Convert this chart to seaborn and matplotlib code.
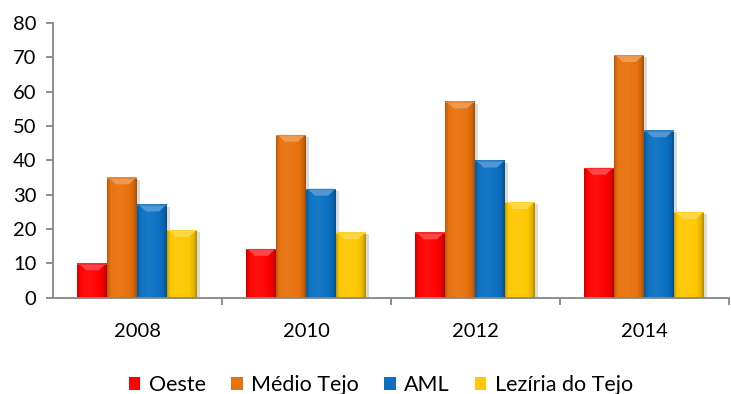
import numpy as np
import pandas as pd
import matplotlib
matplotlib.use("Agg")
import matplotlib.pyplot as plt
import seaborn as sns
from matplotlib.colors import to_rgb
from matplotlib.patches import Polygon, Rectangle

# Values per region and year
anos = ["2008", "2010", "2012", "2014"]
regioes = ["Oeste", "Médio Tejo", "AML", "Lezíria do Tejo"]
oeste = [10.0, 14.2, 19.0, 37.8]
medio_tejo = [35.0, 47.4, 57.1, 70.6]
aml = [27.1, 31.7, 39.9, 48.7]
leziria_do_tejo = [19.7, 19.0, 27.8, 24.9]
y_ticks = [0, 10, 20, 30, 40, 50, 60, 70, 80]

cores = ["#FF0000", "#E8720C", "#0A70C2", "#FFC800"]

series = [oeste, medio_tejo, aml, leziria_do_tejo]
df = pd.DataFrame({
    "Ano": [a for _ in regioes for a in anos],
    "Região": [r for r in regioes for _ in anos],
    "Valor": [v for s in series for v in s],
})

sns.set_theme(style="white")
plt.rcParams["font.family"] = ["Lato", "DejaVu Sans"]
FS = 14.5
FS_LEG = 15.5

fig = plt.figure(figsize=(7.31, 3.94), dpi=100)
ax = fig.add_axes([0.0725, 0.2444, 0.9245, 0.6976])

sns.barplot(data=df, x="Ano", y="Valor", hue="Região", hue_order=regioes,
            order=anos, palette=cores, width=0.71, saturation=1,
            edgecolor="none", linewidth=0, ax=ax)

ax.set_xlim(-0.5, 3.5)
ax.set_ylim(0, 80)


def shade(rgb, f):
    rgb = np.array(rgb)
    if f < 1:
        return rgb * f
    return rgb + (1 - rgb) * (f - 1)


# Beveled look: horizontal gradient, lighter top chevron, soft side shadow
xs = np.linspace(0, 1, 60)
profile = np.interp(xs, [0, 0.06, 0.12, 0.4, 0.75, 0.9, 0.96, 1.0],
                    [0.78, 0.92, 1.02, 1.06, 1.0, 0.9, 0.78, 0.7])
bevel = 2.0
for cont, cor in zip(ax.containers, cores):
    base = to_rgb(cor)
    for bar in cont:
        x0, w, h = bar.get_x(), bar.get_width(), bar.get_height()
        img = np.array([[np.clip(shade(base, f), 0, 1) for f in profile]])
        ax.add_patch(Rectangle((x0 + w, 0), 0.014, max(h - 0.6, 0),
                               color="#9a9a9a", alpha=0.35, lw=0, zorder=1))
        ax.imshow(img, extent=[x0, x0 + w, 0, h], aspect="auto",
                  interpolation="bilinear", zorder=3)
        top = np.clip(shade(base, 1.28), 0, 1)
        ax.add_patch(Polygon([(x0 + w * 0.04, h), (x0 + w * 0.96, h),
                              (x0 + w * 0.72, h - bevel), (x0 + w * 0.28, h - bevel)],
                             closed=True, color=top, lw=0, zorder=4))
        ax.add_patch(Rectangle((x0, h - 0.35), w, 0.35,
                               color=np.clip(shade(base, 1.15), 0, 1), lw=0, zorder=4))

ax.set_xlim(-0.5, 3.5)
ax.set_ylim(0, 80)

gris = "#868686"
for s in ["top", "right"]:
    ax.spines[s].set_visible(False)
for s in ["left", "bottom"]:
    ax.spines[s].set_color(gris)
    ax.spines[s].set_linewidth(1.3)
    ax.spines[s].set_zorder(5)

ax.set_yticks(y_ticks)
ax.set_yticklabels([str(t) for t in y_ticks], fontsize=FS, color="#000000")
ax.tick_params(axis="y", direction="out", length=5, width=1.3, color=gris, pad=7, left=True)
ax.set_xticks(range(len(anos)))
ax.set_xticklabels(anos, fontsize=FS, color="#000000")
ax.tick_params(axis="x", which="major", length=0, pad=18)
ax.set_xticks([0.5, 1.5, 2.5, 3.5], minor=True)
ax.tick_params(axis="x", which="minor", direction="out", length=5, width=1.3,
               color=gris, bottom=True)
ax.set_xlabel("")
ax.set_ylabel("")

handles, labels = ax.get_legend_handles_labels()
ax.legend_.remove()
leg = fig.legend(handles, labels, loc="center", bbox_to_anchor=(0.521, 0.022),
                 bbox_transform=fig.transFigure, ncol=4, frameon=False,
                 fontsize=FS_LEG, handlelength=0.55, handleheight=0.55,
                 handletextpad=0.4, columnspacing=1.15, borderaxespad=0)
for t in leg.get_texts():
    t.set_color("#000000")

fig.savefig("out.png", dpi=100)
